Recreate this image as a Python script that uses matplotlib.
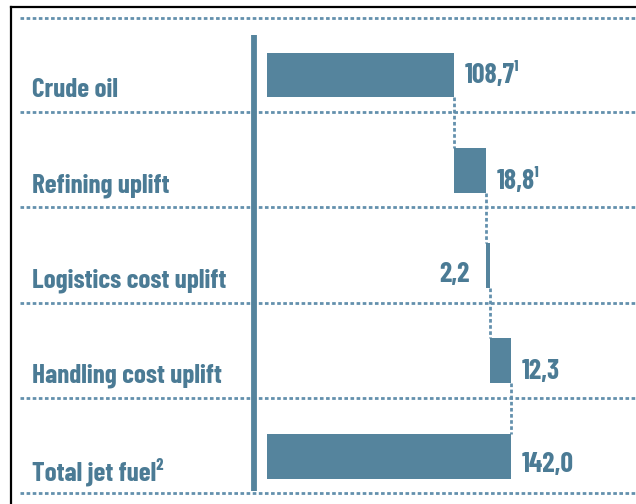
import matplotlib
matplotlib.use("Agg")
import matplotlib.pyplot as plt
from matplotlib.lines import Line2D
import numpy as np

# Jet fuel price build-up
categories = ["Crude oil", "Refining uplift", "Logistics cost uplift",
              "Handling cost uplift", "Total jet fuel²"]
values = [108.7, 18.8, 2.2, 12.3, 142.0]
value_labels = ["108,7¹", "18,8¹", "2,2", "12,3", "142,0"]
is_total = [False, False, False, False, True]

BAR = "#55849d"
TEXT = "#4b7b95"
GRID = "#6390ad"
FONT = ["Barlow Condensed", "DejaVu Sans"]

W, H = 636, 504
fig = plt.figure(figsize=(W / 100, H / 100), dpi=100)
ax = fig.add_axes([0, 0, 1, 1])

# pixel mapping: zero at x=267px, 1 unit = 1.718px; rows every 95.3px from y=75px
px_per_unit = 1.718
x0_px = 267
ax.set_xlim(-x0_px / px_per_unit, (W - x0_px) / px_per_unit)
row_px = 95.3
top_px = 75
ax.set_ylim((H - top_px) / row_px, -top_px / row_px)
ax.axis("off")

def px(n):
    return n / px_per_unit

# starting points of the waterfall bars
starts = []
running = 0.0
for v, tot in zip(values, is_total):
    if tot:
        starts.append(0.0)
    else:
        starts.append(running)
        running += v
ends = [s + v for s, v in zip(starts, values)]

bar_h = 0.472
y = np.arange(len(categories))
ax.barh(y, values, left=starts, height=bar_h, color=BAR, edgecolor="none", zorder=3)

dot_style = dict(color=GRID, lw=2.0, dashes=(1.3, 0.9), solid_capstyle="butt",
                 dash_capstyle="butt")

# horizontal dotted separators
sep_y = [-0.6] + [i + 0.39 for i in range(len(categories))]
for sy in sep_y:
    ax.plot([-px(247), ax.get_xlim()[1]], [sy, sy], zorder=1, **dot_style)

# dotted connectors between consecutive bars
for i in range(len(categories) - 1):
    xc = ends[i]
    ax.plot([xc, xc], [i + bar_h / 2, i + 1 - bar_h / 2], zorder=2, **dot_style)

# vertical baseline bar
ax.plot([-px(13), -px(13)], [-0.42, 4.36], color=BAR, lw=4.2,
        solid_capstyle="butt", zorder=4)

# category labels
for i, cat in enumerate(categories):
    ax.text(-px(235), i + 0.16, cat, ha="left", va="center", fontsize=19.5,
            fontweight="bold", color=TEXT, family=FONT)

# value labels
label_dy = [0.0, 0.11, 0.09, 0.11, 0.09]
for i, (lab, e) in enumerate(zip(value_labels, ends)):
    if values[i] < 5:
        ax.text(starts[i] - px(16), i + label_dy[i], lab, ha="right", va="center",
                fontsize=20, fontweight="bold", color=TEXT, family=FONT)
    else:
        ax.text(e + px(11), i + label_dy[i], lab, ha="left", va="center",
                fontsize=20, fontweight="bold", color=TEXT, family=FONT)

# black frame on left and top
fx = 10.5 / W
fy = 1 - 6.5 / H
fig.add_artist(Line2D([fx, fx], [0, fy], transform=fig.transFigure,
                      color="black", lw=1.6))
fig.add_artist(Line2D([fx, 1], [fy, fy], transform=fig.transFigure,
                      color="black", lw=1.6))

fig.savefig("out.png", dpi=100, facecolor="white")
